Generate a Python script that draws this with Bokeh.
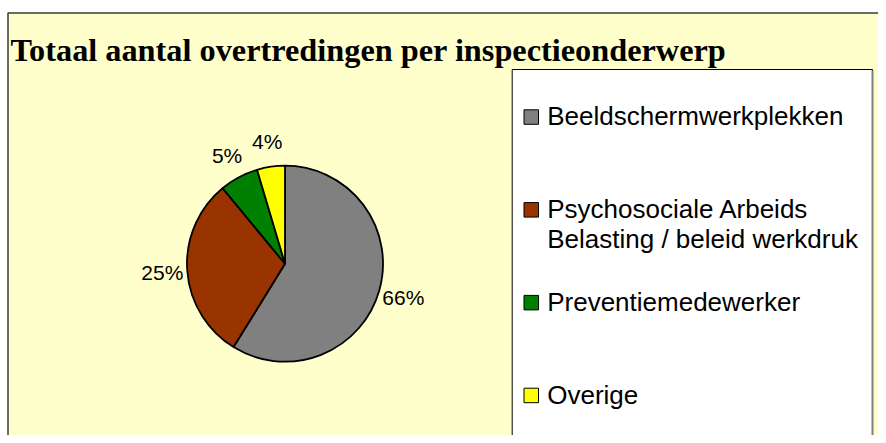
import numpy as np
from bokeh.plotting import figure
from bokeh.models import Range1d
from bokeh.core.properties import value
from bokeh.embed import file_html
from bokeh.resources import INLINE

# ---- data ----
title = "Totaal aantal overtredingen per inspectieonderwerp"
categories = ["Beeldschermwerkplekken",
              "Psychosociale Arbeids\nBelasting / beleid werkdruk",
              "Preventiemedewerker",
              "Overige"]
slice_values = [58.8, 30.2, 6.4, 4.6]      # slice sizes as drawn
pct_labels = ["66%", "25%", "5%", "4%"]    # data labels as printed
colors = ["#808080", "#993300", "#008000", "#FFFF00"]

# ---- figure in pixel coordinates ----
W, H = 878, 435
p = figure(width=W, height=H, x_range=Range1d(0, W), y_range=Range1d(0, H),
           output_backend="svg", toolbar_location=None, min_border=0,
           x_axis_location=None, y_axis_location=None)
p.grid.visible = False
p.outline_line_color = None
p.background_fill_color = "white"
p.border_fill_color = "white"


def Y(py):
    return H - py


# chart area
p.quad(left=7.5, right=920, top=Y(12.5), bottom=-30,
       fill_color="#FFFFCC", line_color="#3a3a3a", line_width=1.5)

# title
p.text(x=[10], y=[Y(49)], text=[title], text_font=value("Liberation Serif"),
       text_font_style="bold", text_font_size=value("32.3px"),
       text_baseline="middle", text_align="left", text_color="black")

# pie
cx, cy, r = 284.5, Y(263.2), 98
vals = np.array(slice_values, dtype=float)
frac = vals / vals.sum()
cum = np.concatenate([[0.0], np.cumsum(frac)])
start = np.pi / 2 - cum[:-1] * 2 * np.pi
end = np.pi / 2 - cum[1:] * 2 * np.pi
p.wedge(x=cx, y=cy, radius=r, start_angle=start, end_angle=end, direction="clock",
        fill_color=colors, line_color="black", line_width=1.8)

# data labels (centred on the slice's mid-angle, outside the pie)
mid = (start + end) / 2
R = r + 25
p.text(x=cx + R * np.cos(mid), y=cy + R * np.sin(mid), text=pct_labels,
       text_font=value("Liberation Sans"), text_font_size=value("21px"),
       text_align="center", text_baseline="middle", text_color="black")

# legend
p.quad(left=511.7, right=872, top=Y(69), bottom=-30,
       fill_color="white", line_color="black", line_width=1)
p.segment(x0=872, y0=Y(70), x1=872, y1=-30, line_color="#808080", line_width=2)

step = 92.8
for i, (name, col) in enumerate(zip(categories, colors)):
    top = 109.3 + i * step
    p.quad(left=523.5, right=538, top=Y(top), bottom=Y(top + 14.5),
           fill_color=col, line_color="black", line_width=1)
    for j, line in enumerate(name.split("\n")):
        p.text(x=[546.7], y=[Y(top + 6.5 + j * 30)], text=[line],
               text_font=value("Liberation Sans"), text_font_size=value("26px"),
               text_align="left", text_baseline="middle", text_color="black")

open("out.html", "w").write(file_html(p, INLINE))
